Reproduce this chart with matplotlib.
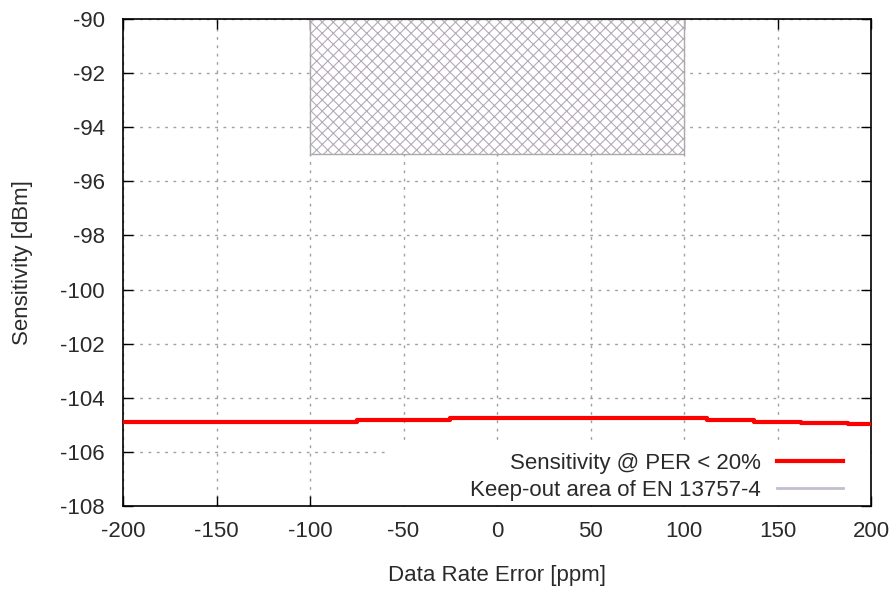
import numpy as np
import matplotlib
matplotlib.use('Agg')
import matplotlib.pyplot as plt
from matplotlib.patches import Rectangle
from matplotlib.lines import Line2D

plt.rcParams['font.family'] = ['Liberation Sans', 'DejaVu Sans']
plt.rcParams['axes.unicode_minus'] = False
plt.rcParams['hatch.linewidth'] = 0.8
plt.rcParams['hatch.color'] = '#b4aab8'

# data (step curve, steps-post)
rate_err = [-200, -75, -25, 112.5, 137.5, 162.5, 187.5, 200]
sens = [-104.88, -104.82, -104.76, -104.82, -104.88, -104.93, -104.98, -104.98]

# keep-out area of EN 13757-4
keep_x = [-100, 100]
keep_y = [-95, -90]

xticks = np.arange(-200, 201, 50)
yticks = np.arange(-108, -89, 2)

fig = plt.figure(figsize=(8.92, 5.9), dpi=100)
ax = fig.add_axes([123/892, 1 - 506/590, (871-123)/892, (506-19)/590])

ax.set_axisbelow(True)
ax.grid(True, color='#a0a0a0', linestyle=(0, (2, 4)), linewidth=1)

ax.fill_between(keep_x, keep_y[0], keep_y[1], facecolor='white',
                edgecolor='#b4aab8', hatch='xxx', linewidth=0, zorder=1)
ax.add_patch(Rectangle((keep_x[0], keep_y[0]), keep_x[1]-keep_x[0], keep_y[1]-keep_y[0],
                       fill=False, edgecolor='#aaaaaa', linewidth=1, zorder=1.1))

# opaque key box
ax.add_patch(Rectangle((0.35, 0.0), 0.65, 0.125, transform=ax.transAxes,
                       facecolor='white', edgecolor='none', zorder=1.2))

ax.plot(rate_err, sens, color='#ff0000', linewidth=3, drawstyle='steps-post', zorder=3)

ax.set_xlim(-200, 200)
ax.set_ylim(-108, -90)
ax.set_xticks(xticks)
ax.set_yticks(yticks)
ax.tick_params(direction='in', length=7, width=1, top=True, right=True,
               labelsize=16, colors='black')
ax.tick_params(axis='y', pad=13)
ax.tick_params(axis='x', pad=11)
for lab in ax.get_xticklabels() + ax.get_yticklabels():
    lab.set_color('#2a2a2a')
for s in ax.spines.values():
    s.set_linewidth(1.2)

ax.set_xlabel('Data Rate Error [ppm]', fontsize=16, color='#2a2a2a', labelpad=16)
ax.set_ylabel('Sensitivity [dBm]', fontsize=16, color='#2a2a2a', labelpad=20)

handles = [Line2D([], [], color='#ff0000', linewidth=3),
           Line2D([], [], color='#c4bccf', linewidth=2)]
ax.legend(handles, ['Sensitivity @ PER < 20%', 'Keep-out area of EN 13757-4'],
          loc='lower right', bbox_to_anchor=(0.978, -0.012), frameon=False,
          markerfirst=False, fontsize=16, handlelength=3.0, handletextpad=0.7,
          labelspacing=0.25, borderaxespad=0.1, labelcolor='#2a2a2a')

plt.savefig('out.png', dpi=100)
